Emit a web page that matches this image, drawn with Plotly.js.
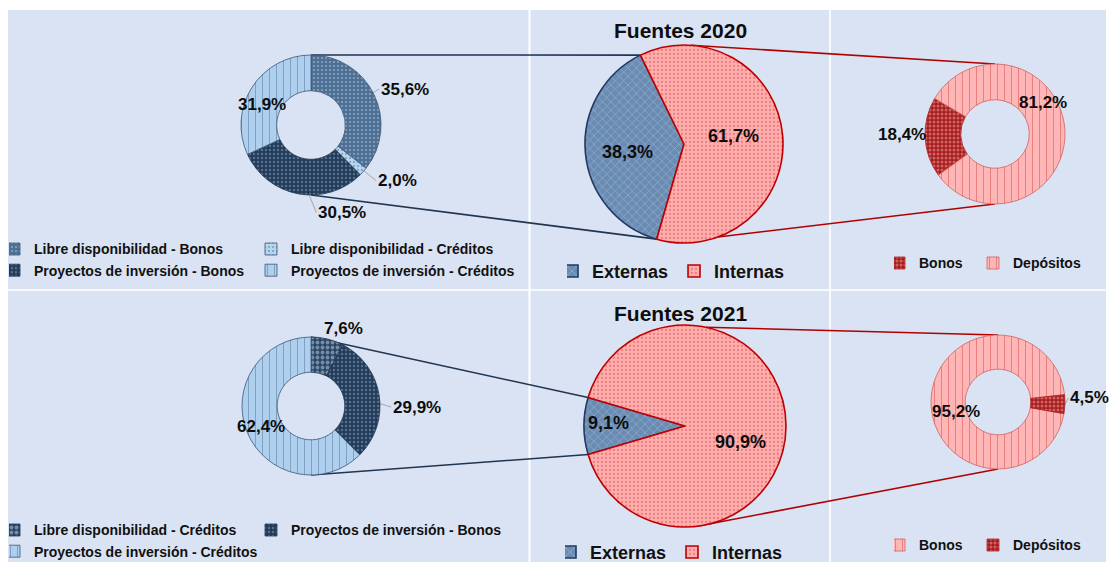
<!DOCTYPE html>
<html>
<head>
<meta charset="utf-8">
<script src="https://cdn.plot.ly/plotly-3.0.1.min.js"></script>
<style>
html,body{margin:0;padding:0;background:#ffffff;}
#chart{width:1110px;height:562px;}
</style>
</head>
<body>
<div id="chart"></div>
<script>
// ---------------- DATA ----------------
const titles = ['Fuentes 2020', 'Fuentes 2021'];

const labelsLeft2020 = ['Libre disponibilidad - Bonos', 'Libre disponibilidad - Créditos',
                        'Proyectos de inversión - Bonos', 'Proyectos de inversión - Créditos'];
const valuesLeft2020 = [35.6, 2.0, 30.5, 31.9];

const labelsMid = ['Externas', 'Internas'];
const valuesMid2020 = [38.3, 61.7];

const labelsRight2020 = ['Bonos', 'Depósitos'];
const valuesRight2020 = [18.4, 81.2];

const labelsLeft2021 = ['Libre disponibilidad - Créditos', 'Proyectos de inversión - Bonos',
                        'Proyectos de inversión - Créditos'];
const valuesLeft2021 = [7.6, 29.9, 62.4];

const valuesMid2021 = [9.1, 90.9];

const labelsRight2021 = ['Bonos', 'Depósitos'];
const valuesRight2021 = [95.2, 4.5];

// ---------------- LAYOUT HELPERS ----------------
const W = 1110, H = 562, ML = 20;
const PW = W - ML;
const px2x = p => (p - ML) / PW;
const py2y = p => 1 - p / H;
const FONT = 'Liberation Sans, Arial, Helvetica, sans-serif';

// slice styles
const ST = {
  lb:   {color:'#4e7095', shape:'.', fg:'#c9d8e8', size:4, sol:0.22, op:1,    line:'#3b5676'},
  lcL:  {color:'#b7d5ef', shape:'.', fg:'#3d5d7d', size:4, sol:0.2,  op:1,    line:'#3b5676'},
  lcD:  {color:'#2a4565', shape:'.', fg:'#c2d3e6', size:5, sol:0.45, op:1,    line:'#1f3550'},
  pb:   {color:'#213b58', shape:'.', fg:'#8aa5c2', size:4, sol:0.3,  op:1,    line:'#1f3550'},
  pc:   {color:'#aed0ee', shape:'|', fg:'#2d4b6b', size:7, sol:0.1,  op:0.55, line:'#3b5676'},
  ext:  {color:'#6a8cb3', shape:'x', fg:'#c8d8eb', size:6, sol:0.2,  op:1,    line:'#1f3864'},
  int:  {color:'#ffaeae', shape:'.', fg:'#d85050', size:4, sol:0.25, op:1,    line:'#c00000'},
  bonD: {color:'#a51d1d', shape:'.', fg:'#f5aaaa', size:4, sol:0.45, op:1,    line:'#b02020'},
  depL: {color:'#ffb6b6', shape:'|', fg:'#c21a1a', size:7, sol:0.1,  op:0.55, line:'#d06060'}
};

const pies = [
  {labels:labelsLeft2020, values:valuesLeft2020, cx:311, cy:125, r:70, hole:0.49, rotation:0,
   styles:['lb','lcL','pb','pc'], lw:0.8, legend:'legend', fs:17,
   lab:[{da:5,rf:1.44,leader:true},{da:-9,rf:1.47,leader:true},{da:-30,rf:1.33,leader:true},{da:-10,rf:0.76}]},
  {labels:labelsMid, values:valuesMid2020, cx:684, cy:144, r:99, hole:0, rotation:196,
   styles:['ext','int'], lw:1.6, legend:'legend2', fs:18,
   lab:[{da:-3,rf:0.58},{da:-4,rf:0.51}]},
  {labels:labelsRight2020, values:valuesRight2020, cx:995, cy:134, r:70, hole:0.49, rotation:234,
   styles:['bonD','depL'], lw:0.8, legend:'legend3', fs:17,
   lab:[{da:2.5,rf:1.33},{da:-31,rf:0.82}]},
  {labels:labelsLeft2021, values:valuesLeft2021, cx:311, cy:406, r:69, hole:0.49, rotation:0,
   styles:['lcD','pb','pc'], lw:0.8, legend:'legend4', fs:17,
   lab:[{da:9,rf:1.21},{da:9.3,rf:1.54,leader:true},{da:0,rf:0.79}]},
  {labels:labelsMid, values:valuesMid2021, cx:685, cy:426, r:101, hole:0, rotation:253.6,
   styles:['ext','int'], lw:1.6, legend:'legend5', fs:18,
   lab:[{da:2,rf:0.76},{da:16,rf:0.57}]},
  {labels:labelsRight2021, values:valuesRight2021, cx:998, cy:402, r:67, hole:0.49, rotation:100,
   styles:['depL','bonD'], lw:0.8, legend:'legend6', fs:17,
   lab:[{da:-15,rf:0.65},{da:-4.5,rf:1.37,leader:true,leaderFrom:1.0}]}
];

function sliceAngles(p){
  const tot = p.values.reduce((a,b)=>a+b,0);
  let a = p.rotation; const out = [];
  p.values.forEach(v => { const s = 360*v/tot; out.push({start:a, mid:a+s/2, end:a+s}); a += s; });
  return out;
}
function pt(p, ang, rho){ const t = ang*Math.PI/180; return [p.cx + rho*Math.sin(t), p.cy - rho*Math.cos(t)]; }
function fmt(v){ return v.toFixed(1).replace('.', ',') + '%'; }
function textW(s, fs){ let w=0; for(const c of s){ w += (c===',')?0.278:(c==='%')?0.889:0.556; } return w*fs; }

// ---------------- TRACES ----------------
const traces = pies.map((p, k) => {
  const st = p.styles.map(s => ST[s]);
  return {
    type:'pie', labels:p.labels, values:p.values, hole:p.hole, sort:false,
    direction:'clockwise', rotation:p.rotation, textinfo:'none', hoverinfo:'label+percent',
    domain:{x:[px2x(p.cx-p.r), px2x(p.cx+p.r)], y:[py2y(p.cy+p.r), py2y(p.cy-p.r)]},
    marker:{
      colors: st.map(s=>s.color),
      line:{color: st.map(s=>s.line), width: p.lw},
      pattern:{shape: st.map(s=>s.shape), fgcolor: st.map(s=>s.fg), size: st.map(s=>s.size),
               solidity: st.map(s=>s.sol), fgopacity: st.map(s=>s.op), fillmode:'overlay'}
    },
    legend:p.legend, legendgroup:'grp' + k, showlegend:true
  };
});

// ---------------- SHAPES ----------------
const shapes = [];
const panelBg = '#dae3f3';
const colsX = [[8,528.5],[530.5,829.2],[830.8,1106]];
const rowsY = [[10,289.3],[290.8,562]];
rowsY.forEach(ry => colsX.forEach(cx => shapes.push({
  type:'rect', xref:'paper', yref:'paper', layer:'below',
  x0:px2x(cx[0]), x1:px2x(cx[1]), y0:py2y(ry[1]), y1:py2y(ry[0]),
  fillcolor:panelBg, line:{width:0}
})));

function lineShape(a, b, color, width){
  shapes.push({type:'line', xref:'paper', yref:'paper', layer:'below',
    x0:px2x(a[0]), y0:py2y(a[1]), x1:px2x(b[0]), y1:py2y(b[1]),
    line:{color:color, width:width}});
}

// connectors between pies of each row
const redConnAngles = [[4,160],[12,174]];
[[0,1,2],[3,4,5]].forEach((row, ri) => {
  const L = pies[row[0]], M = pies[row[1]], R = pies[row[2]];
  const ext = sliceAngles(M)[0];
  lineShape(pt(L,0,L.r),   pt(M,ext.end,M.r),   '#1f3550', 1.6);
  lineShape(pt(L,180,L.r), pt(M,ext.start,M.r), '#1f3550', 1.6);
  lineShape(pt(M,redConnAngles[ri][0],M.r), pt(R,0,R.r),   '#b00000', 1.6);
  lineShape(pt(M,redConnAngles[ri][1],M.r), pt(R,180,R.r), '#b00000', 1.6);
});

// ---------------- ANNOTATIONS ----------------
const annotations = [];
pies.forEach(p => {
  const ang = sliceAngles(p);
  p.values.forEach((v, i) => {
    const L = p.lab[i];
    const pos = pt(p, ang[i].mid + L.da, p.r*L.rf);
    const txt = fmt(v);
    annotations.push({xref:'paper', yref:'paper', x:px2x(pos[0]), y:py2y(pos[1]),
      xanchor:'center', yanchor:'middle', showarrow:false, text:txt,
      font:{family:FONT, size:p.fs, color:'#0d0d0d', weight:'bold'}});
    if (L.leader) {
      const rho = p.r*(L.leaderFrom !== undefined ? L.leaderFrom : (1+p.hole)/2);
      const s = pt(p, ang[i].mid, rho);
      const hw = textW(txt, p.fs)/2 + 2;
      const e = [pos[0] + (pos[0] >= p.cx ? -hw : hw), pos[1]];
      lineShape(s, e, '#a6a6a6', 1);
    }
  });
});
const titleCenters = [[680,31],[680,313]];
titles.forEach((t, i) => annotations.push({xref:'paper', yref:'paper',
  x:px2x(titleCenters[i][0]), y:py2y(titleCenters[i][1]), xanchor:'center', yanchor:'middle',
  showarrow:false, text:t, font:{family:FONT, size:21, color:'#0d0d0d', weight:'bold'}}));

// ---------------- LEGENDS ----------------
function legendAt(textLeft, rowCenter, fs, entrywidth){
  const h = fs*1.3 + 3;
  return {orientation:'h', x:px2x(textLeft-25), xanchor:'left',
    y:py2y(rowCenter - 5 - h/2), yanchor:'top',
    bgcolor:'rgba(0,0,0,0)', borderwidth:0, indentation:-15, itemwidth:30,
    entrywidth:entrywidth, entrywidthmode:'pixels', traceorder:'normal',
    font:{family:FONT, size:fs, color:'#111111', weight:'bold'}};
}

const layout = {
  width:W, height:H, margin:{l:ML, r:0, t:0, b:0, autoexpand:false},
  paper_bgcolor:'#ffffff', plot_bgcolor:'rgba(0,0,0,0)',
  shapes:shapes, annotations:annotations,
  legend:  legendAt(34, 249, 14, 227),
  legend2: legendAt(592, 271, 18, 92),
  legend3: legendAt(919, 263, 14, 64),
  legend4: legendAt(34, 530, 14, 227),
  legend5: legendAt(590, 552, 18, 92),
  legend6: legendAt(919, 545, 14, 64)
};

Plotly.newPlot('chart', traces, layout, {displayModeBar:false, staticPlot:true});
</script>
</body>
</html>
